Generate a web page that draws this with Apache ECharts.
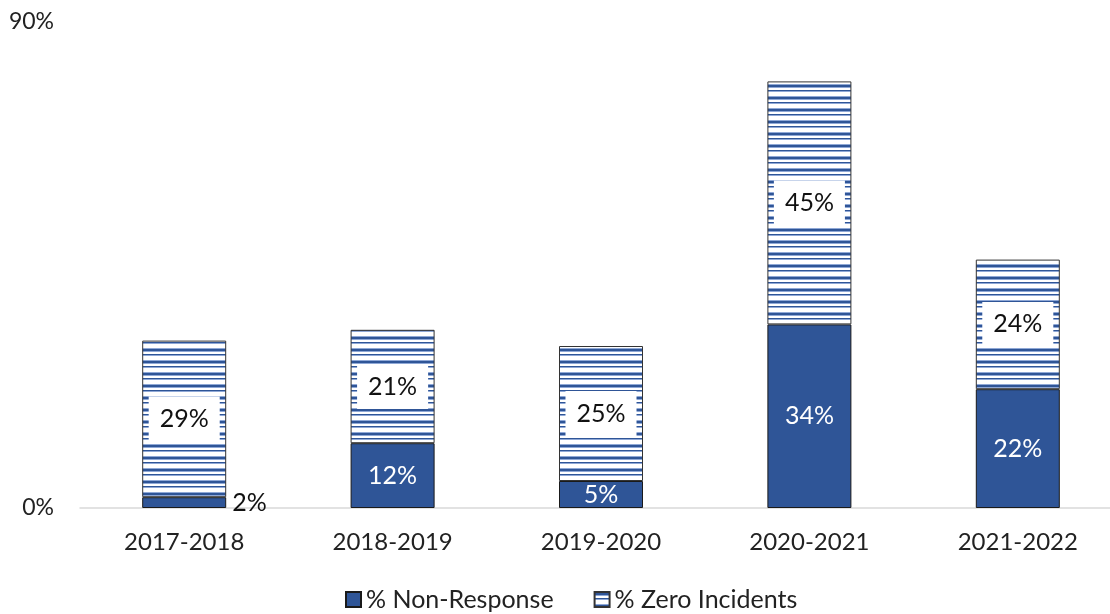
<!DOCTYPE html>
<html>
<head>
<meta charset="utf-8">
<script src="https://cdn.jsdelivr.net/npm/echarts@6/dist/echarts.min.js"></script>
<style>
  html, body { margin: 0; padding: 0; background: #fff; overflow: hidden; }
  #chart { width: 1122px; height: 614px; }
</style>
</head>
<body>
<div id="chart"></div>
<script>
// data
var years = ['2017-2018', '2018-2019', '2019-2020', '2020-2021', '2021-2022'];
var nonResponse = [2, 12, 5, 34, 22];
var zeroIncidents = [29, 21, 25, 45, 24];
var yTicks = [0, 90];

// horizontal stripe fill, like the office pattern
function makeStripes() {
    var c = document.createElement('canvas');
    c.width = 8;
    c.height = 12;
    var ctx = c.getContext('2d');
    ctx.fillStyle = '#ffffff';
    ctx.fillRect(0, 0, 8, 12);
    ctx.fillStyle = '#8FA8D6';
    ctx.fillRect(0, 0, 8, 1);
    ctx.fillRect(0, 3, 8, 1);
    ctx.fillRect(0, 7, 8, 1);
    ctx.fillStyle = '#2F5597';
    ctx.fillRect(0, 1, 8, 2);
    ctx.fillRect(0, 6, 8, 1);
    return c;
}
var stripes = makeStripes();

var font = 'Lato, "Open Sans", sans-serif';

var myChart = echarts.init(document.getElementById('chart'));
var option = {
    animation: false,
    textStyle: { fontFamily: font },
    grid: {
        left: 80,
        right: 0,
        top: 22,
        bottom: 106,
        containLabel: false
    },
    legend: {
        top: 582,
        left: 340,
        icon: 'rect',
        itemWidth: 15,
        itemHeight: 15,
        itemGap: 40,
        textStyle: { fontSize: 25, color: '#222', fontFamily: font },
        data: ['% Non-Response', '% Zero Incidents']
    },
    xAxis: {
        type: 'category',
        data: years,
        axisLine: { lineStyle: { color: '#d9d9d9', width: 1.5 } },
        axisTick: { show: false },
        axisLabel: { fontSize: 24, color: '#222', margin: 22, fontFamily: font }
    },
    yAxis: {
        type: 'value',
        min: yTicks[0],
        max: yTicks[1],
        interval: 90,
        splitLine: { show: false },
        axisLine: { show: false },
        axisTick: { show: false },
        axisLabel: {
            fontSize: 23, color: '#222', margin: 26, fontFamily: font,
            formatter: function (v) { return v + '%'; }
        }
    },
    series: [
        {
            name: '% Non-Response',
            type: 'bar',
            stack: 'total',
            barWidth: 84,
            data: nonResponse.map(function (v, i) {
                var d = { value: v };
                if (v < 4) {
                    d.label = { position: 'right', color: '#111', distance: 6 };
                }
                return d;
            }),
            itemStyle: { color: '#2F5597', borderColor: '#1a1a1a', borderWidth: 1 },
            label: {
                show: true,
                position: 'inside',
                color: '#fff',
                fontSize: 25,
                fontFamily: font,
                formatter: '{c}%'
            }
        },
        {
            name: '% Zero Incidents',
            type: 'bar',
            stack: 'total',
            barWidth: 84,
            data: zeroIncidents,
            itemStyle: {
                color: { image: stripes, repeat: 'repeat' },
                borderColor: '#333',
                borderWidth: 1
            },
            label: {
                show: true,
                position: 'inside',
                color: '#111',
                fontSize: 25,
                fontFamily: font,
                backgroundColor: '#fff',
                padding: [10, 11, 10, 11],
                formatter: '{c}%'
            }
        }
    ]
};
option && myChart.setOption(option);
</script>
</body>
</html>
